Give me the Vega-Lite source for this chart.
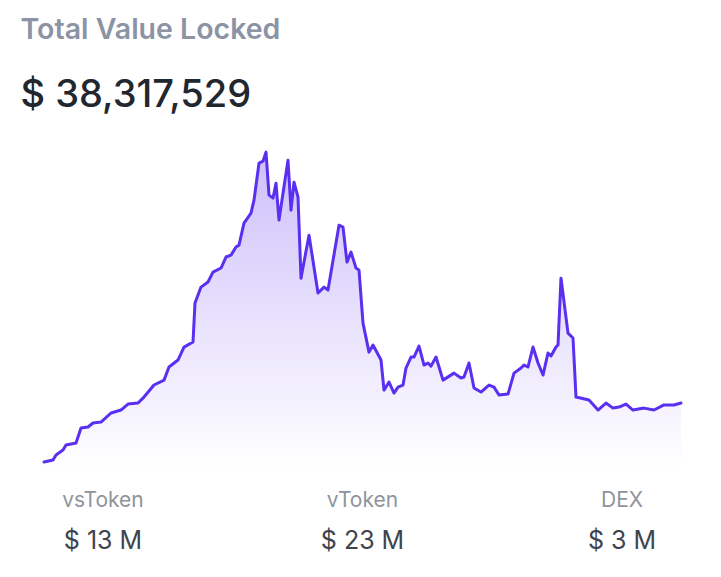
{
  "$schema": "https://vega.github.io/schema/vega-lite/v6.json",
  "padding": {"left": 20, "right": 40, "top": 15, "bottom": 0},
  "background": "white",
  "title": {
    "text": "Total Value Locked",
    "subtitle": "$ 38,317,529",
    "anchor": "start",
    "dx": -22,
    "font": "Inter",
    "fontSize": 28.5,
    "fontWeight": 600,
    "color": "#8b93a5",
    "subtitleFont": "Inter",
    "subtitleFontSize": 38,
    "subtitleFontWeight": 500,
    "subtitleColor": "#22262e",
    "subtitlePadding": 33,
    "offset": 35
  },
  "config": {"view": {"stroke": null}},
  "spacing": 16,
  "vconcat": [
    {
      "width": 639,
      "height": 320,
      "data": {"values": [
        {"t": 1, "v": 4.6}, {"t": 10, "v": 5.7}, {"t": 13, "v": 8.6}, {"t": 20, "v": 11.4},
        {"t": 23, "v": 14.3}, {"t": 33, "v": 15.4}, {"t": 38, "v": 24.0}, {"t": 45, "v": 24.6},
        {"t": 50, "v": 26.9}, {"t": 58, "v": 27.4}, {"t": 68, "v": 32.6}, {"t": 78, "v": 34.3},
        {"t": 85, "v": 37.7}, {"t": 95, "v": 38.3}, {"t": 101, "v": 41.7}, {"t": 111, "v": 48.6},
        {"t": 121, "v": 51.4}, {"t": 126, "v": 58.9}, {"t": 135, "v": 62.9}, {"t": 141, "v": 70.3},
        {"t": 150, "v": 73.2}, {"t": 152, "v": 95.5}, {"t": 158, "v": 104.6}, {"t": 165, "v": 107.5},
        {"t": 170, "v": 113.2}, {"t": 178, "v": 115.5}, {"t": 183, "v": 121.8}, {"t": 188, "v": 122.9},
        {"t": 193, "v": 127.5}, {"t": 196, "v": 128.6}, {"t": 201, "v": 141.2}, {"t": 208, "v": 146.9},
        {"t": 211, "v": 154.3}, {"t": 216, "v": 175.5}, {"t": 220, "v": 176.6}, {"t": 223, "v": 181.8},
        {"t": 226, "v": 157.2}, {"t": 230, "v": 155.5}, {"t": 233, "v": 164.0}, {"t": 236, "v": 142.9},
        {"t": 240, "v": 158.3}, {"t": 245, "v": 177.2}, {"t": 248, "v": 148.6}, {"t": 251, "v": 164.6},
        {"t": 255, "v": 156.0}, {"t": 258, "v": 109.7}, {"t": 266, "v": 134.3}, {"t": 275, "v": 101.2},
        {"t": 281, "v": 104.6}, {"t": 285, "v": 102.9}, {"t": 296, "v": 140.0}, {"t": 300, "v": 138.9},
        {"t": 304, "v": 118.9}, {"t": 308, "v": 124.6}, {"t": 313, "v": 115.5}, {"t": 316, "v": 114.3},
        {"t": 320, "v": 84.0}, {"t": 326, "v": 67.4}, {"t": 330, "v": 71.5}, {"t": 338, "v": 62.9},
        {"t": 341, "v": 45.7}, {"t": 346, "v": 50.3}, {"t": 351, "v": 44.0}, {"t": 355, "v": 47.4},
        {"t": 360, "v": 48.6}, {"t": 363, "v": 58.3}, {"t": 368, "v": 64.6}, {"t": 371, "v": 64.6},
        {"t": 376, "v": 70.9}, {"t": 381, "v": 60.0}, {"t": 385, "v": 61.2}, {"t": 388, "v": 59.4},
        {"t": 393, "v": 64.6}, {"t": 400, "v": 51.4}, {"t": 411, "v": 55.4}, {"t": 418, "v": 52.6},
        {"t": 421, "v": 53.2}, {"t": 426, "v": 61.2}, {"t": 431, "v": 46.9}, {"t": 438, "v": 44.6},
        {"t": 446, "v": 48.6}, {"t": 451, "v": 47.4}, {"t": 456, "v": 42.9}, {"t": 465, "v": 43.4},
        {"t": 471, "v": 55.4}, {"t": 478, "v": 58.3}, {"t": 481, "v": 60.0}, {"t": 485, "v": 58.9},
        {"t": 490, "v": 70.3}, {"t": 495, "v": 61.2}, {"t": 500, "v": 54.3}, {"t": 505, "v": 66.9},
        {"t": 508, "v": 65.2}, {"t": 513, "v": 70.3}, {"t": 515, "v": 71.5}, {"t": 518, "v": 109.7},
        {"t": 525, "v": 78.3}, {"t": 530, "v": 75.5}, {"t": 533, "v": 41.7}, {"t": 546, "v": 40.0},
        {"t": 555, "v": 34.3}, {"t": 563, "v": 38.3}, {"t": 570, "v": 35.4}, {"t": 576, "v": 36.0},
        {"t": 583, "v": 37.7}, {"t": 590, "v": 34.3}, {"t": 601, "v": 35.4}, {"t": 611, "v": 34.3},
        {"t": 621, "v": 37.2}, {"t": 631, "v": 37.2}, {"t": 638, "v": 38.3}
      ]},
      "encoding": {
        "x": {"field": "t", "type": "quantitative", "scale": {"domain": [0, 639], "nice": false, "zero": false}, "axis": null},
        "y": {"field": "v", "type": "quantitative", "scale": {"domain": [0, 183], "nice": false}, "axis": null}
      },
      "layer": [
        {
          "mark": {
            "type": "area",
            "color": {
              "gradient": "linear",
              "x1": 0, "y1": 0, "x2": 0, "y2": 1,
              "stops": [
                {"offset": 0, "color": "rgba(110,70,240,0.34)"},
                {"offset": 1, "color": "rgba(110,70,240,0.0)"}
              ]
            }
          }
        },
        {
          "mark": {"type": "line", "color": "#5a2ff0", "strokeWidth": 3, "strokeJoin": "round", "strokeCap": "round"}
        }
      ]
    },
    {
      "width": 639,
      "height": 84,
      "data": {"values": [
        {"cat": "vsToken", "line": "name", "text": "vsToken"},
        {"cat": "vsToken", "line": "value", "text": "$ 13 M"},
        {"cat": "vToken", "line": "name", "text": "vToken"},
        {"cat": "vToken", "line": "value", "text": "$ 23 M"},
        {"cat": "DEX", "line": "name", "text": "DEX"},
        {"cat": "DEX", "line": "value", "text": "$ 3 M"}
      ]},
      "mark": {"type": "text", "font": "Inter", "baseline": "alphabetic", "align": "center"},
      "encoding": {
        "x": {"field": "cat", "type": "nominal", "sort": ["vsToken", "vToken", "DEX"], "scale": {"type": "point", "padding": 0.231}, "axis": null},
        "y": {"field": "line", "type": "nominal", "sort": ["name", "value"], "scale": {"type": "point", "padding": 0.5}, "axis": null},
        "text": {"field": "text"},
        "color": {"field": "line", "type": "nominal", "scale": {"domain": ["name", "value"], "range": ["#8f949c", "#40444c"]}, "legend": null},
        "size": {"field": "line", "type": "ordinal", "scale": {"domain": ["name", "value"], "range": [21, 25]}, "legend": null}
      }
    }
  ]
}
